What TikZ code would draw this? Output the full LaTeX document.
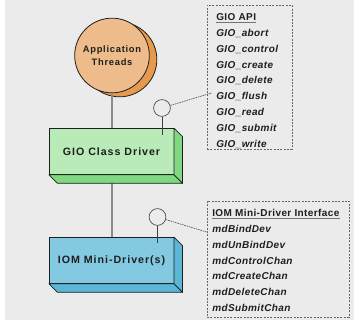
\documentclass[tikz,border=0pt]{standalone}
\usepackage{fontspec}
\newfontfamily\listfont{Liberation Sans}[LetterSpace=4]
\newfontfamily\drvfont{Liberation Sans}[LetterSpace=9]
\newfontfamily\appfont{Liberation Sans}[LetterSpace=8]
\usetikzlibrary{positioning}
\definecolor{bggray}{HTML}{EBEBEB}
\definecolor{ink}{HTML}{1E1E1E}
\definecolor{appfront}{HTML}{EDBC8A}
\definecolor{appback}{HTML}{E89A4C}
\definecolor{gcdfront}{HTML}{B8EBB8}
\definecolor{gcdside}{HTML}{80D980}
\definecolor{iomfront}{HTML}{82C9E1}
\definecolor{iomside}{HTML}{5CB6D6}
\tikzset{
    thread/.style={circle,draw=ink,line width=0.6pt,minimum size=56pt,inner sep=0pt,
        align=center,text=ink,font=\appfont\bfseries\fontsize{7}{9.3}\selectfont},
    driver/.style={rectangle,draw=ink,line width=0.6pt,minimum width=93.75pt,minimum height=35pt,
        outer sep=0pt,text=ink,font=\drvfont\bfseries\fontsize{8}{9}\selectfont},
    face/.style={draw=ink,line width=0.6pt,line join=round},
    port/.style={circle,draw=ink!85,line width=0.5pt,minimum size=12.6pt,inner sep=0pt},
    listbox/.style={rectangle,draw=black!60,line width=0.6pt,dash pattern=on 1.6pt off 0.9pt},
    listtitle/.style={inner sep=0pt,text height=6pt,text depth=5.5pt,text=ink,
        font=\listfont\bfseries\fontsize{7.5}{9}\selectfont},
    listitem/.style={listtitle,font=\listfont\bfseries\itshape\fontsize{7.5}{9}\selectfont},
    titlerule/.style={black!55,line width=0.6pt},
    link/.style={black!45,line width=0.9pt},
    stem/.style={black!75,line width=0.5pt},
    tether/.style={black!70,line width=0.45pt,dash pattern=on 1.2pt off 0.6pt}
}
\newcommand{\drvfaces}[2]{%
    \filldraw[face,fill=#2] (#1.north east) -- ([shift={(8.5,8.5)}]#1.north east)
        -- ([shift={(8.5,8.5)}]#1.south east) -- (#1.south east) -- cycle;
    \filldraw[face,fill=#2] (#1.south west) -- ([shift={(8.5,8.5)}]#1.south west)
        -- ([shift={(8.5,8.5)}]#1.south east) -- (#1.south east) -- cycle;
}

\begin{document}
\begin{tikzpicture}[x=0.75pt,y=-0.75pt]

    \fill[bggray] (5,0) rectangle (354,320);
    \useasboundingbox (0,0) rectangle (354,324);

    % application threads
    \node[thread,fill=appback]  (appshadow) at (119.5,59.5) {};
    \node[thread,fill=appfront] (app)       at (112,55.5)   {Application\\Threads};

    % drivers
    \node[driver,fill=gcdfront] (gcd) at (111.5,151.5) {GIO Class Driver};
    \node[driver,fill=iomfront] (iom) at (111.5,260.5) {IOM Mini-Driver(s)};

    \draw[link] (app) -- (app |- gcd.north);
    \draw[link] (gcd.south -| app) -- (iom.north -| app);

    \drvfaces{gcd}{gcdside}
    \drvfaces{iom}{iomside}

    % interface ports
    \node[port] (gioport) at (162,108) {};
    \coordinate (giojoin) at (162,135);
    \draw[stem] (gioport) -- (giojoin);

    \node[port] (iomport) at (157.5,217) {};
    \coordinate (iomjoin) at (157.5,243);
    \draw[stem] (iomport) -- (iomjoin);

    % GIO API list
    \node[listbox,minimum width=63.75pt,minimum height=108pt] (gioapi) at (249.5,77) {};
    \node[listtitle,anchor=base west] (giotitle) at (216,20.5) {GIO API};
    \draw[titlerule] ([yshift=-1.6pt]giotitle.base west) -- ([yshift=-1.6pt]giotitle.base east);
    \node[listitem] (abort)   [below right=0pt of giotitle.south west] {GIO\_abort};
    \node[listitem] (control) [below right=0pt of abort.south west]    {GIO\_control};
    \node[listitem] (create)  [below right=0pt of control.south west]  {GIO\_create};
    \node[listitem] (delete)  [below right=0pt of create.south west]   {GIO\_delete};
    \node[listitem] (flush)   [below right=0pt of delete.south west]   {GIO\_flush};
    \node[listitem] (read)    [below right=0pt of flush.south west]    {GIO\_read};
    \node[listitem] (submit)  [below right=0pt of read.south west]     {GIO\_submit};
    \node[listitem] (write)   [below right=0pt of submit.south west]   {GIO\_write};

    % IOM mini-driver interface list
    \node[listbox,minimum width=106.5pt,minimum height=87pt] (iomlist) at (278,259) {};
    \node[listtitle,anchor=base west] (iomtitle) at (212,216.5) {IOM Mini-Driver Interface};
    \draw[titlerule] ([yshift=-1.6pt]iomtitle.base west) -- ([yshift=-1.6pt]iomtitle.base east);
    \node[listitem] (bind)       [below right=0pt of iomtitle.south west]   {mdBindDev};
    \node[listitem] (unbind)     [below right=0pt of bind.south west]       {mdUnBindDev};
    \node[listitem] (ctrlchan)   [below right=0pt of unbind.south west]     {mdControlChan};
    \node[listitem] (createchan) [below right=0pt of ctrlchan.south west]   {mdCreateChan};
    \node[listitem] (deletechan) [below right=0pt of createchan.south west] {mdDeleteChan};
    \node[listitem] (submitchan) [below right=0pt of deletechan.south west] {mdSubmitChan};

    % port tethers
    \draw[tether] (gioport) -- ([xshift=-3pt,yshift=5pt]flush.west);
    \draw[tether] (iomport) -- (iomlist.west |- bind.west);

\end{tikzpicture}
\end{document}
